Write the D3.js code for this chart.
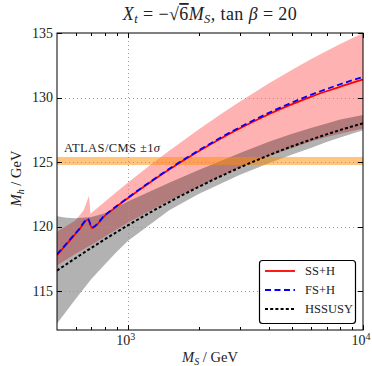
<!DOCTYPE html>
<html>
<head>
<meta charset="utf-8">
<script src="https://cdn.jsdelivr.net/npm/d3@7"></script>
<style>
  html, body { margin: 0; padding: 0; background: #fff; }
  svg { display: block; }
  text { font-family: "Liberation Serif", "Times New Roman", serif; fill: #222; }
</style>
</head>
<body>
<svg id="chart" width="372" height="366"></svg>
<script>
// SS+H / FS+H central lines
const msLine = [500, 560, 620, 677, 704, 800, 900, 1000, 1250, 1500, 2000, 2500, 3000, 4000, 5000, 6000, 7000, 8000, 10000]
const ssH = [117.8, 118.83, 119.75, 120.55, 119.9, 120.86, 121.58, 122.2, 123.46, 124.43, 125.84, 126.85, 127.62, 128.73, 129.49, 130.06, 130.49, 130.84, 131.4]
const fsH = [117.85, 118.88, 119.8, 120.6, 119.95, 120.9, 121.62, 122.24, 123.5, 124.48, 125.9, 126.93, 127.71, 128.84, 129.62, 130.21, 130.66, 131.03, 131.6]

// HSSUSY central line
const msHss = [500, 600, 700, 800, 1000, 1500, 2000, 3000, 4000, 5000, 6000, 7000, 8000, 10000]
const hssusy = [116.6, 117.57, 118.36, 119.03, 120.1, 121.91, 123.08, 124.59, 125.55, 126.23, 126.74, 127.15, 127.49, 128.0]

// SS+H uncertainty band
const msRedBand = [500, 600, 650, 684, 694, 800, 900, 1000, 1250, 1500, 2000, 2500, 3000, 4000, 5000, 6000, 7000, 8000, 10000]
const redUpper = [119.6, 120.5, 121.3, 122.4, 121.0, 121.95, 122.72, 123.4, 124.79, 125.89, 127.53, 128.75, 129.69, 131.12, 132.15, 132.96, 133.6, 134.15, 135.0]
const redLower = [117.0, 117.9, 118.25, 118.5, 118.55, 119.25, 119.8, 120.3, 121.25, 122.0, 123.1, 123.95, 124.6, 125.5, 126.1, 126.6, 126.95, 127.2, 127.6]

// HSSUSY uncertainty band
const msGrayBand = [500, 550, 600, 700, 800, 900, 1000, 1500, 2000, 3000, 4000, 5000, 6000, 7000, 8000, 10000]
const grayUpper = [120.8, 120.7, 120.65, 120.75, 121.05, 121.5, 121.95, 123.4, 124.4, 125.7, 126.6, 127.2, 127.65, 128.0, 128.3, 128.65]
const grayLower = [112.5, 113.5, 114.4, 115.95, 117.1, 118.07, 118.9, 121.28, 122.53, 124.03, 124.93, 125.6, 126.1, 126.55, 126.9, 127.47]

// experimental band
const atlasBand = [124.78, 125.4]

const yTicks = [115, 120, 125, 130, 135]
const yGrid = [115, 120, 125, 130]
const xMajor = [1000, 10000]
const xMinor = [600, 700, 800, 900, 2000, 3000, 4000, 5000, 6000, 7000, 8000, 9000]

const legendItems = [
  { label: 'SS+H', color: '#ff0000', dash: null },
  { label: 'FS+H', color: '#0000ff', dash: '6,3.5' },
  { label: 'HSSUSY', color: '#000000', dash: '3,2.2' },
]

const pL = 57, pR = 363, pT = 33, pB = 330

const x = d3.scaleLog().domain([500, 10000]).range([pL, pR])
const y = d3.scaleLinear().domain([112, 135]).range([pB, pT])

const svg = d3.select('#chart')

svg.append('defs').append('clipPath').attr('id', 'plotclip')
  .append('rect').attr('x', pL).attr('y', pT)
  .attr('width', pR - pL).attr('height', pB - pT)

const plot = svg.append('g').attr('clip-path', 'url(#plotclip)')

function band(xs, lo, hi) {
  return d3.area()
    .x((d, i) => x(xs[i]))
    .y0((d, i) => y(lo[i]))
    .y1((d, i) => y(hi[i]))(xs)
}

plot.append('path')
  .attr('d', band(msRedBand, redLower, redUpper))
  .attr('fill', '#ff0000')
  .attr('fill-opacity', 0.3)

plot.append('path')
  .attr('d', band(msGrayBand, grayLower, grayUpper))
  .attr('fill', '#000000')
  .attr('fill-opacity', 0.3)

plot.append('rect')
  .attr('x', pL).attr('width', pR - pL)
  .attr('y', y(atlasBand[1]))
  .attr('height', y(atlasBand[0]) - y(atlasBand[1]))
  .attr('fill', '#ff8c00')
  .attr('fill-opacity', 0.5)

// grid
const grid = plot.append('g')
  .attr('stroke', '#999')
  .attr('stroke-width', 1)
  .attr('stroke-dasharray', '1,3')
grid.selectAll('line.gy').data(yGrid).join('line')
  .attr('x1', pL).attr('x2', pR)
  .attr('y1', d => Math.round(y(d)) + 0.5).attr('y2', d => Math.round(y(d)) + 0.5)
grid.selectAll('line.gx').data([1000]).join('line')
  .attr('x1', d => Math.round(x(d)) + 0.5).attr('x2', d => Math.round(x(d)) + 0.5)
  .attr('y1', pT).attr('y2', pB)

function lineOf(xs, vals) {
  return d3.line()
    .x((d, i) => x(xs[i]))
    .y((d, i) => y(vals[i]))
    .curve(d3.curveMonotoneX)(xs)
}

plot.append('path')
  .attr('d', lineOf(msHss, hssusy))
  .attr('fill', 'none').attr('stroke', '#000')
  .attr('stroke-width', 2).attr('stroke-dasharray', legendItems[2].dash)

plot.append('path')
  .attr('d', lineOf(msLine, ssH))
  .attr('fill', 'none').attr('stroke', '#ff0000')
  .attr('stroke-width', 1.8)

plot.append('path')
  .attr('d', lineOf(msLine, fsH))
  .attr('fill', 'none').attr('stroke', '#0000ff')
  .attr('stroke-width', 1.8).attr('stroke-dasharray', legendItems[1].dash)

// label for the experimental band
svg.append('text')
  .attr('x', 64).attr('y', 152)
  .attr('font-size', 12.5)
  .attr('letter-spacing', 0.4)
  .text('ATLAS/CMS ±1')
  .append('tspan').attr('font-style', 'italic').text('σ')

// frame and ticks
const axes = svg.append('g').attr('stroke', '#000').attr('stroke-width', 1)
axes.append('rect')
  .attr('x', pL).attr('y', pT)
  .attr('width', pR - pL).attr('height', pB - pT)
  .attr('fill', 'none')

yTicks.forEach(v => {
  const py = Math.round(y(v)) + 0.5
  axes.append('line').attr('x1', pL).attr('x2', pL + 5).attr('y1', py).attr('y2', py)
  axes.append('line').attr('x1', pR).attr('x2', pR - 5).attr('y1', py).attr('y2', py)
})
xMajor.forEach(v => {
  const px = Math.round(x(v)) + 0.5
  axes.append('line').attr('x1', px).attr('x2', px).attr('y1', pB).attr('y2', pB - 5)
  axes.append('line').attr('x1', px).attr('x2', px).attr('y1', pT).attr('y2', pT + 5)
})
xMinor.forEach(v => {
  const px = Math.round(x(v)) + 0.5
  axes.append('line').attr('x1', px).attr('x2', px).attr('y1', pB).attr('y2', pB - 3)
  axes.append('line').attr('x1', px).attr('x2', px).attr('y1', pT).attr('y2', pT + 3)
})

// tick labels
svg.append('g').selectAll('text').data(yTicks).join('text')
  .attr('x', 53).attr('y', d => y(d) + 4.5)
  .attr('text-anchor', 'end')
  .attr('font-size', 14)
  .text(d => d)

const xl = svg.append('g').selectAll('text').data(xMajor).join('text')
  .attr('x', d => x(d) - 2).attr('y', 345)
  .attr('text-anchor', 'middle')
  .attr('font-size', 14)
xl.append('tspan').text('10')
xl.append('tspan').attr('dy', -5).attr('font-size', 10).text(d => Math.log10(d))

// axis labels
const xt = svg.append('text')
  .attr('x', 210).attr('y', 362)
  .attr('text-anchor', 'middle')
  .attr('font-size', 14.5)
xt.append('tspan').attr('font-style', 'italic').text('M')
xt.append('tspan').attr('font-style', 'italic').attr('font-size', 10).attr('dy', 3).text('S')
xt.append('tspan').attr('dy', -3).text(' / GeV')

const yt = svg.append('text')
  .attr('transform', `translate(21,${(pT + pB) / 2 - 3}) rotate(-90)`)
  .attr('text-anchor', 'middle')
  .attr('font-size', 14.5)
yt.append('tspan').attr('font-style', 'italic').text('M')
yt.append('tspan').attr('font-style', 'italic').attr('font-size', 10).attr('dy', 3).text('h')
yt.append('tspan').attr('dy', -3).text(' / GeV')

// title
const tt = svg.append('text')
  .attr('x', 210).attr('y', 20)
  .attr('text-anchor', 'middle')
  .attr('font-size', 18)
  .attr('letter-spacing', 0.4)
tt.append('tspan').attr('font-style', 'italic').text('X')
tt.append('tspan').attr('font-style', 'italic').attr('font-size', 12.5).attr('dy', 3).text('t')
tt.append('tspan').attr('dy', -3).text(' = −√')
tt.append('tspan').attr('text-decoration', 'overline').text('6')
tt.append('tspan').attr('font-style', 'italic').text('M')
tt.append('tspan').attr('font-style', 'italic').attr('font-size', 12.5).attr('dy', 3).text('S')
tt.append('tspan').attr('dy', -3).text(', tan ')
tt.append('tspan').attr('font-style', 'italic').text('β')
tt.append('tspan').text(' = 20')

// legend
const lg = svg.append('g')
lg.append('rect')
  .attr('x', 259.5).attr('y', 260.5)
  .attr('width', 96).attr('height', 63)
  .attr('rx', 3)
  .attr('fill', '#fff').attr('stroke', '#000').attr('stroke-width', 1.2)
legendItems.forEach((it, i) => {
  const ly = 271 + i * 19
  lg.append('line')
    .attr('x1', 265).attr('x2', 295).attr('y1', ly).attr('y2', ly)
    .attr('stroke', it.color).attr('stroke-width', it.label === 'HSSUSY' ? 2 : 1.8)
    .attr('stroke-dasharray', it.dash)
  lg.append('text')
    .attr('x', 305).attr('y', ly + 4)
    .attr('font-family', '"Liberation Mono", "Courier New", monospace')
    .attr('font-size', 12.5)
    .text(it.label)
})
</script>
</body>
</html>
